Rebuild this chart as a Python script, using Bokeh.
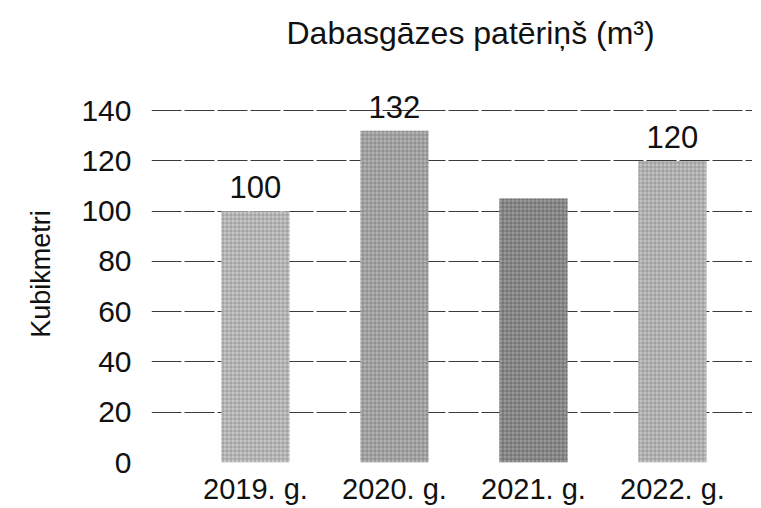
from bokeh.plotting import figure
from bokeh.models import ColumnDataSource, FixedTicker, Range1d, Title, LabelSet
from bokeh.embed import file_html
from bokeh.resources import INLINE
from bokeh.core.properties import value

years = ["2019. g.", "2020. g.", "2021. g.", "2022. g."]
consumption = [100, 132, 105, 120]
value_labels = ["100", "132", "", "120"]
bar_colors = ["#c8c8c8", "#b4b4b4", "#9a9a9a", "#c2c2c2"]
hatch_colors = ["#7a7a7a", "#6a6a6a", "#4a4a4a", "#7a7a7a"]
y_ticks = [0, 20, 40, 60, 80, 100, 120, 140]

xpos = list(range(1, len(years) + 1))
src = ColumnDataSource(dict(x=xpos, top=consumption, lab=value_labels,
                            color=bar_colors, hcolor=hatch_colors))

FONT = "Liberation Sans"

p = figure(output_backend="svg", toolbar_location=None,
           frame_width=601, frame_height=377,
           x_range=Range1d(0.252, 4.576), y_range=Range1d(0, 150),
           min_border_left=151, min_border_right=0, min_border_top=85, min_border_bottom=38)
p.outline_line_color = None
p.background_fill_color = "white"

p.vbar(x="x", top="top", width=0.49, source=src, fill_color="color", line_color=None,
       hatch_pattern="cross", hatch_color="hcolor", hatch_scale=4, hatch_weight=1,
       hatch_alpha=0.55)
labels = LabelSet(x="x", y="top", text="lab", source=src, text_align="center",
                  text_baseline="alphabetic", y_offset=13, text_font=value(FONT),
                  text_font_size="31px", text_color="#111111")
p.add_layout(labels)

# axes
p.xaxis.ticker = FixedTicker(ticks=xpos)
p.xaxis.major_label_overrides = {i: y for i, y in zip(xpos, years)}
p.xaxis.axis_line_color = None
p.xaxis.major_tick_line_color = None
p.xaxis.major_tick_out = 0
p.xaxis.major_tick_in = 0
p.xaxis.minor_tick_line_color = None
p.xaxis.major_label_text_font = FONT
p.xaxis.major_label_text_font_size = "29px"
p.xaxis.major_label_text_color = "#111111"
p.xaxis.major_label_standoff = 10

p.yaxis.ticker = FixedTicker(ticks=y_ticks)
p.yaxis.axis_line_color = None
p.yaxis.major_tick_line_color = None
p.yaxis.major_tick_out = 0
p.yaxis.major_tick_in = 0
p.yaxis.minor_tick_line_color = None
p.yaxis.major_label_text_font = FONT
p.yaxis.major_label_text_font_size = "30px"
p.yaxis.major_label_text_color = "#111111"
p.yaxis.major_label_standoff = 20
p.yaxis.axis_label = "Kubikmetri"
p.yaxis.axis_label_text_font = FONT
p.yaxis.axis_label_text_font_size = "27px"
p.yaxis.axis_label_text_font_style = "normal"
p.yaxis.axis_label_text_color = "#111111"
p.yaxis.axis_label_standoff = 22

p.xgrid.grid_line_color = None
p.ygrid.grid_line_color = "#3a3a3a"
p.ygrid.grid_line_width = 1
p.ygrid.grid_line_dash = "30 3"

# spacer between title and plot area
spacer = Title(text=" ", text_font_size="1px", standoff=16)
p.add_layout(spacer, "above")

title = Title(text="Dabasgāzes patēriņš (m³)", text_font=FONT, text_font_size="32px",
              text_font_style="normal", text_color="#111111", align="left", offset=135,
              vertical_align="top", standoff=28)
p.add_layout(title, "above")

open("out.html", "w").write(file_html(p, INLINE))
